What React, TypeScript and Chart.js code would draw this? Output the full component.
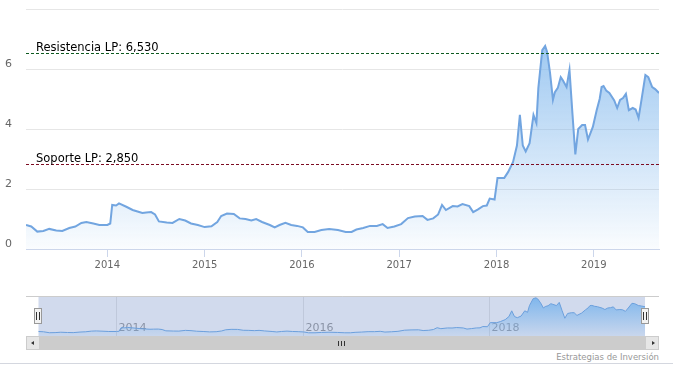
import React, { useEffect, useRef } from "react";
import { Chart, registerables } from "chart.js";

Chart.register(...registerables);

// Decimal-year dates of the price series
const dates = [
  2013.164, 2013.218, 2013.28, 2013.342, 2013.403, 2013.475, 2013.537, 2013.609, 2013.671, 2013.733,
  2013.784, 2013.856, 2013.918, 2014.0, 2014.03, 2014.05, 2014.09, 2014.12, 2014.2, 2014.26,
  2014.31, 2014.36, 2014.4, 2014.45, 2014.49, 2014.53, 2014.61, 2014.67, 2014.74, 2014.8,
  2014.86, 2014.93, 2015.0, 2015.07, 2015.13, 2015.17, 2015.23, 2015.3, 2015.36, 2015.42,
  2015.48, 2015.53, 2015.59, 2015.67, 2015.72, 2015.77, 2015.83, 2015.89, 2015.95, 2016.01,
  2016.06, 2016.13, 2016.2, 2016.28, 2016.37, 2016.45, 2016.51, 2016.56, 2016.63, 2016.7,
  2016.77, 2016.83, 2016.88, 2016.95, 2017.02, 2017.09, 2017.16, 2017.24, 2017.29, 2017.35,
  2017.4, 2017.44, 2017.48, 2017.55, 2017.6, 2017.65, 2017.72, 2017.76, 2017.81, 2017.86,
  2017.9, 2017.93, 2017.98, 2018.01, 2018.08, 2018.12, 2018.17, 2018.21, 2018.24, 2018.27,
  2018.3, 2018.34, 2018.38, 2018.41, 2018.43, 2018.47, 2018.5, 2018.52, 2018.55, 2018.58,
  2018.6, 2018.63, 2018.66, 2018.68, 2018.72, 2018.75, 2018.78, 2018.81, 2018.84, 2018.88,
  2018.91, 2018.94, 2018.99, 2019.03, 2019.06, 2019.08, 2019.1, 2019.13, 2019.16, 2019.21,
  2019.24, 2019.27, 2019.3, 2019.33, 2019.36, 2019.4, 2019.43, 2019.46, 2019.49, 2019.53,
  2019.56, 2019.6, 2019.63, 2019.67,
];

// Price values
const values = [
  0.8, 0.75, 0.58, 0.6, 0.67, 0.62, 0.6, 0.7, 0.75, 0.87,
  0.9, 0.85, 0.8, 0.8, 0.85, 1.47, 1.45, 1.52, 1.4, 1.3,
  1.25, 1.2, 1.22, 1.23, 1.15, 0.92, 0.88, 0.87, 1.0, 0.95,
  0.85, 0.8, 0.73, 0.76, 0.9, 1.1, 1.18, 1.17, 1.02, 1.0,
  0.95, 1.0, 0.9, 0.8, 0.72, 0.8, 0.87, 0.8, 0.77, 0.72,
  0.57, 0.57, 0.63, 0.67, 0.63, 0.57, 0.57, 0.65, 0.7, 0.77,
  0.77, 0.83, 0.7, 0.75, 0.83, 1.03, 1.08, 1.1, 0.97, 1.02,
  1.15, 1.47, 1.3, 1.43, 1.42, 1.5, 1.43, 1.23, 1.32, 1.43,
  1.45, 1.68, 1.65, 2.37, 2.37, 2.57, 2.9, 3.45, 4.47, 3.45,
  3.25, 3.53, 4.47, 4.2, 5.37, 6.63, 6.77, 6.57, 5.87, 4.97,
  5.23, 5.37, 5.73, 5.63, 5.4, 5.97, 4.53, 3.15, 4.0, 4.13,
  4.13, 3.65, 4.07, 4.63, 5.0, 5.4, 5.43, 5.27, 5.2, 4.95,
  4.7, 4.97, 5.03, 5.17, 4.63, 4.7, 4.65, 4.37, 4.97, 5.8,
  5.73, 5.4, 5.33, 5.2,
];

const yearTicks = [2014, 2015, 2016, 2017, 2018, 2019];
const navYearTicks = [2014, 2016, 2018];
const yTicks = [0, 2, 4, 6, 8];
const levelValues = [6.53, 2.85];
const levelLabels = ["Resistencia LP: 6,530", "Soporte LP: 2,850"];
const levelColors = ["#0d5a1f", "#7d0c22"];
const rangeStart = 2013.164;
const rangeEnd = 2019.67;
const navStart = 2013.03;
const navEnd = 2019.82;
const creditText = "Estrategias de Inversión";

const FONT = '"DejaVu Sans", sans-serif';
const lineColor = "#72a5e0";

const levelsPlugin = {
  id: "levels",
  afterDatasetsDraw(chart: any) {
    const { ctx, chartArea, scales } = chart;
    const y = scales.y;
    ctx.save();
    levelValues.forEach((v, i) => {
      const py = Math.round(y.getPixelForValue(v)) + 0.5;
      ctx.strokeStyle = levelColors[i];
      ctx.lineWidth = 1;
      ctx.setLineDash([3, 2]);
      ctx.beginPath();
      ctx.moveTo(chartArea.left, py);
      ctx.lineTo(chartArea.right, py);
      ctx.stroke();
      ctx.setLineDash([]);
      ctx.fillStyle = "#000";
      ctx.font = "11.5px " + FONT;
      ctx.textAlign = "left";
      ctx.textBaseline = "alphabetic";
      ctx.fillText(levelLabels[i], chartArea.left + 10, py - 3);
    });
    ctx.restore();
  },
};

const navPlugin = {
  id: "nav",
  beforeDatasetsDraw(chart: any) {
    const { ctx, chartArea, scales } = chart;
    const x = scales.x;
    const { top, bottom } = chartArea;
    ctx.save();
    ctx.strokeStyle = "#e6e6e6";
    ctx.lineWidth = 1;
    ctx.font = "11px " + FONT;
    ctx.fillStyle = "#999";
    ctx.textAlign = "left";
    ctx.textBaseline = "middle";
    navYearTicks.forEach((t) => {
      const px = Math.round(x.getPixelForValue(t)) + 0.5;
      ctx.beginPath();
      ctx.moveTo(px, top);
      ctx.lineTo(px, bottom);
      ctx.stroke();
      ctx.fillText(String(t), px + 2, top + 32);
    });
    const x0 = x.getPixelForValue(rangeStart);
    const x1 = x.getPixelForValue(rangeEnd);
    ctx.fillStyle = "rgba(102,133,194,0.3)";
    ctx.fillRect(x0, top, x1 - x0, bottom - top);
    ctx.restore();
  },
  afterDraw(chart: any) {
    const { ctx, chartArea, scales } = chart;
    const x = scales.x;
    ctx.save();
    ctx.strokeStyle = "#cccccc";
    ctx.lineWidth = 1;
    ctx.beginPath();
    ctx.moveTo(chartArea.left, chartArea.top + 0.5);
    ctx.lineTo(chartArea.right, chartArea.top + 0.5);
    ctx.stroke();
    [rangeStart, rangeEnd].forEach((v) => {
      const px = Math.round(x.getPixelForValue(v));
      ctx.fillStyle = "#f2f2f2";
      ctx.strokeStyle = "#999999";
      ctx.fillRect(px - 3.5, 12.5, 7, 15);
      ctx.strokeRect(px - 3.5, 12.5, 7, 15);
      ctx.strokeStyle = "#333";
      ctx.beginPath();
      ctx.moveTo(px - 1.5, 16);
      ctx.lineTo(px - 1.5, 24);
      ctx.moveTo(px + 1.5, 16);
      ctx.lineTo(px + 1.5, 24);
      ctx.stroke();
    });
    ctx.restore();
  },
};

function areaGradient(alphaTop: number, alphaBottom: number) {
  return (c: any) => {
    const chart = c.chart;
    const area = chart.chartArea;
    if (!area) return "rgba(124,181,236,0.3)";
    const g = chart.ctx.createLinearGradient(0, area.top, 0, area.bottom);
    g.addColorStop(0, `rgba(124,181,236,${alphaTop})`);
    g.addColorStop(1, `rgba(124,181,236,${alphaBottom})`);
    return g;
  };
}

export default function App() {
  const mainRef = useRef<HTMLCanvasElement>(null);
  const navRef = useRef<HTMLCanvasElement>(null);

  useEffect(() => {
    const points = dates.map((d, i) => ({ x: d, y: values[i] }));
    const main = new Chart(mainRef.current as HTMLCanvasElement, {
      type: "line",
      data: {
        datasets: [
          {
            data: points,
            borderColor: lineColor,
            borderWidth: 2,
            pointRadius: 0,
            tension: 0,
            fill: "start",
            backgroundColor: areaGradient(0.85, 0.04),
          },
        ],
      },
      options: {
        animation: false,
        responsive: false,
        events: [],
        layout: { padding: { top: 9, right: 14, left: 5, bottom: 0 } },
        plugins: { legend: { display: false }, tooltip: { enabled: false } },
        scales: {
          x: {
            type: "linear",
            min: rangeStart,
            max: rangeEnd,
            afterBuildTicks: (s: any) => {
              s.ticks = yearTicks.map((v) => ({ value: v }));
            },
            afterFit: (s: any) => {
              s.height = 31;
            },
            grid: { display: true, drawOnChartArea: false, drawTicks: true, tickLength: 8, color: "#ccd6eb" },
            border: { display: true, color: "#ccd6eb" },
            ticks: {
              padding: 2,
              color: "#666",
              font: { size: 10, family: FONT },
              maxRotation: 0,
              autoSkip: false,
              callback: (v: any) => String(v),
            },
          },
          y: {
            min: 0,
            max: 8,
            afterBuildTicks: (s: any) => {
              s.ticks = yTicks.map((v) => ({ value: v }));
            },
            afterFit: (s: any) => {
              s.width = 21;
            },
            grid: { color: "#e6e6e6", drawTicks: false },
            border: { display: false },
            ticks: {
              padding: 0,
              crossAlign: "far",
              color: "#666",
              font: { size: 11, family: FONT },
              labelOffset: -5,
              callback: (v: any) => (v === 8 ? "" : String(v)),
            },
          },
        },
      },
      plugins: [levelsPlugin],
    } as any);

    const nav = new Chart(navRef.current as HTMLCanvasElement, {
      type: "line",
      data: {
        datasets: [
          {
            data: points,
            borderColor: "#6b9fdc",
            borderWidth: 1,
            pointRadius: 0,
            tension: 0,
            fill: "start",
            backgroundColor: areaGradient(1, 0.1),
          },
        ],
      },
      options: {
        animation: false,
        responsive: false,
        events: [],
        layout: { padding: { top: 0, right: 14, left: 26, bottom: 0 } },
        plugins: { legend: { display: false }, tooltip: { enabled: false } },
        scales: {
          x: { type: "linear", display: false, min: navStart, max: navEnd },
          y: { display: false, min: 0, max: 7.1 },
        },
      },
      plugins: [navPlugin],
    } as any);

    return () => {
      main.destroy();
      nav.destroy();
    };
  }, []);

  const abs = (s: any) => ({ position: "absolute", boxSizing: "border-box", ...s });

  return (
    <div style={abs({ left: 0, top: 0, width: 673, height: 372, background: "#fff", overflow: "hidden", fontFamily: FONT })}>
      <canvas ref={mainRef} width={673} height={280} style={abs({ left: 0, top: 0, width: 673, height: 280 })} />
      <canvas ref={navRef} width={673} height={40} style={abs({ left: 0, top: 296, width: 673, height: 40 })} />
      {/* scrollbar */}
      <div style={abs({ left: 26, top: 336, width: 633, height: 14, background: "#f2f2f2" })} />
      <div style={abs({ left: 39, top: 336, width: 607, height: 14, background: "#cccccc", border: "1px solid #cccccc" })}>
        <div style={abs({ left: 298, top: 4, width: 1, height: 5, background: "#333" })} />
        <div style={abs({ left: 301, top: 4, width: 1, height: 5, background: "#333" })} />
        <div style={abs({ left: 304, top: 4, width: 1, height: 5, background: "#333" })} />
      </div>
      <div style={abs({ left: 26, top: 336, width: 14, height: 14, background: "#e6e6e6", border: "1px solid #cccccc" })}>
        <div style={abs({ left: 4, top: 4, width: 0, height: 0, borderTop: "2.5px solid transparent", borderBottom: "2.5px solid transparent", borderRight: "3px solid #333" })} />
      </div>
      <div style={abs({ left: 645, top: 336, width: 14, height: 14, background: "#e6e6e6", border: "1px solid #cccccc" })}>
        <div style={abs({ left: 6, top: 4, width: 0, height: 0, borderTop: "2.5px solid transparent", borderBottom: "2.5px solid transparent", borderLeft: "3px solid #333" })} />
      </div>
      {/* credits */}
      <div style={abs({ left: 400, top: 351, width: 259, height: 12, textAlign: "right", fontSize: 8.5, lineHeight: "12px", color: "#999", whiteSpace: "nowrap" })}>
        {creditText}
      </div>
      <div style={abs({ left: 0, top: 363, width: 673, height: 1, background: "#d4d7df" })} />
    </div>
  );
}
